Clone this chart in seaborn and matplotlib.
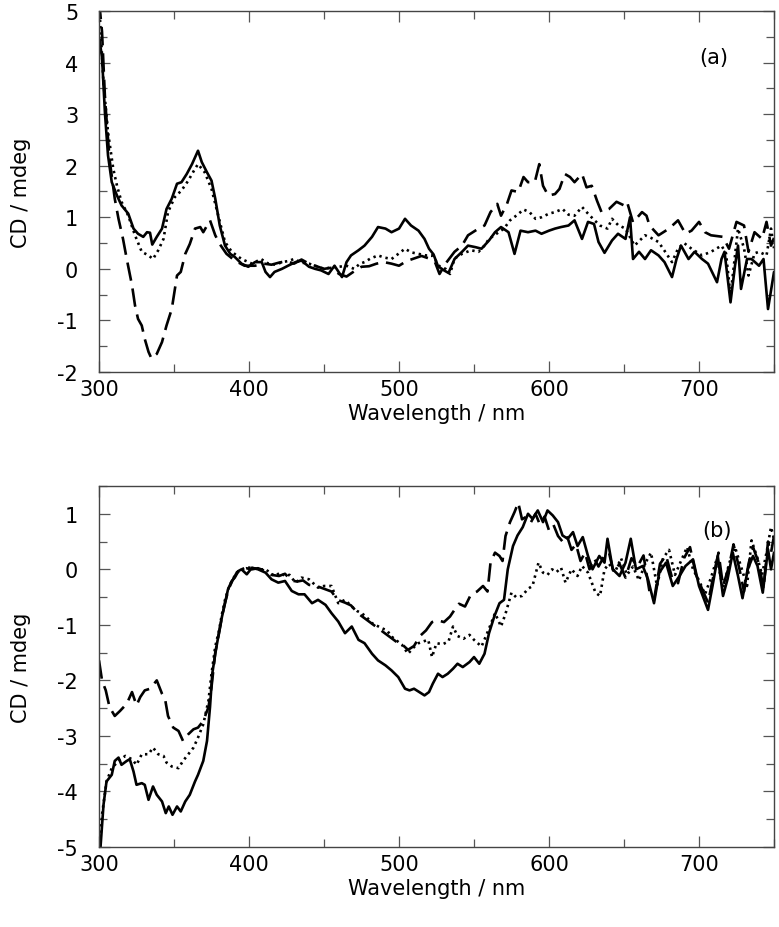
import numpy as np
import pandas as pd
import matplotlib
matplotlib.use("Agg")
import matplotlib.pyplot as plt
import seaborn as sns
from matplotlib.ticker import MultipleLocator

# ---------------- Data ----------------
# Panel (a)
a_solid_x = [300, 302, 304, 306, 308.5, 312, 315, 319.5, 323, 326, 329.5, 332, 334, 335.5, 338.5, 342, 345, 348.5, 352, 355,
             358.5, 362, 366, 368.5, 372, 375, 377.5, 380.5, 384, 387.5, 390.5, 395, 399.5, 404, 408.5, 411, 414, 417, 422, 426,
             431, 435, 440, 444, 448, 453, 457, 462, 465, 468, 473, 477, 482, 486, 491, 495, 500, 504, 508, 513,
             517, 520, 523, 526, 530, 533, 537, 542, 546, 551, 555, 560, 564, 568, 573, 577, 581, 586, 591, 595,
             600, 604, 608, 613, 617, 622, 626, 630, 633, 637, 642, 646, 651, 654, 656, 660, 664, 668, 673, 677,
             682, 685, 688, 693, 697, 702, 706, 712, 715, 717, 721, 724, 726, 728, 732, 735, 740, 743, 746, 750]
a_solid_y = [4.5, 4.1, 3.0, 2.2, 1.68, 1.42, 1.23, 1.07, 0.78, 0.68, 0.62, 0.71, 0.70, 0.47, 0.62, 0.78, 1.16, 1.36, 1.65, 1.68,
             1.84, 2.03, 2.29, 2.07, 1.87, 1.71, 1.36, 0.84, 0.45, 0.29, 0.23, 0.10, 0.04, 0.13, 0.13, -0.06, -0.16, -0.06, 0.0, 0.06,
             0.13, 0.16, 0.04, 0.0, -0.03, -0.10, 0.06, -0.16, 0.13, 0.26, 0.36, 0.45, 0.62, 0.81, 0.78, 0.71, 0.78, 0.97, 0.84, 0.74,
             0.58, 0.39, 0.28, 0.05, -0.03, -0.08, 0.19, 0.33, 0.45, 0.42, 0.39, 0.55, 0.71, 0.81, 0.71, 0.29, 0.74, 0.71, 0.74, 0.68,
             0.74, 0.78, 0.81, 0.84, 0.94, 0.58, 0.91, 0.87, 0.52, 0.31, 0.55, 0.68, 0.58, 1.0, 0.19, 0.33, 0.19, 0.36, 0.26, 0.13,
             -0.16, 0.19, 0.45, 0.19, 0.33, 0.19, 0.10, -0.26, 0.19, 0.33, -0.65, 0.06, 0.45, -0.39, 0.19, 0.19, 0.06, 0.19, -0.78, -0.06]

a_dot_x = [300, 303, 306, 309.5, 312, 315, 319.5, 324, 328.5, 333, 336, 339.5, 343, 346, 350.5, 355, 359.5, 364, 366, 370.5,
           375, 379.5, 384, 388.5, 395, 402, 408, 413, 418, 422, 426, 430, 435, 440, 445, 450, 455, 460, 465, 470,
           474, 477, 481, 486, 490, 495, 500, 504, 508, 513, 518, 522, 527, 531, 534, 537, 542, 548, 553, 557,
           560, 566, 570, 574, 579, 583, 587, 591, 595, 600, 604, 609, 613, 617, 622, 626, 630, 634, 639, 642,
           646, 651, 657, 664, 668, 673, 677, 682, 686, 690, 695, 702, 708, 715, 718, 721, 726, 730, 733, 737,
           740, 745, 748, 750]
a_dot_y = [5.2, 3.6, 2.65, 1.94, 1.61, 1.30, 1.03, 0.65, 0.33, 0.26, 0.19, 0.36, 0.58, 1.10, 1.39, 1.52, 1.71, 1.94, 2.03, 1.87,
           1.55, 1.03, 0.52, 0.33, 0.19, 0.10, 0.19, 0.10, 0.08, 0.13, 0.15, 0.19, 0.12, 0.10, 0.05, 0.0, 0.03, 0.04, 0.06, 0.0,
           0.10, 0.13, 0.20, 0.26, 0.22, 0.19, 0.30, 0.39, 0.32, 0.29, 0.26, 0.26, 0.05, 0.0, -0.10, 0.20, 0.29, 0.36, 0.33, 0.45,
           0.58, 0.70, 0.78, 0.94, 1.05, 1.15, 1.10, 0.97, 1.00, 1.07, 1.10, 1.16, 1.05, 1.03, 1.20, 1.07, 0.95, 0.84, 0.78, 0.97,
           0.85, 0.78, 0.45, 0.65, 0.60, 0.52, 0.35, 0.13, 0.39, 0.50, 0.39, 0.26, 0.33, 0.45, 0.30, -0.52, 0.78, 0.40, -0.13, 0.30,
           0.33, 0.26, 0.78, 0.40]

a_dash_x = [300, 302, 304, 307, 310.5, 313, 316, 318.5, 322, 324, 326, 328.5, 330.5, 333, 335, 338.5, 342, 345, 348.5, 352,
            354.5, 357.5, 360.5, 364, 367.5, 369.5, 374, 377.5, 380.5, 385, 390.5, 397, 404, 410, 415, 420, 425, 430, 435, 440,
            445, 450, 455, 460, 465, 470, 475, 480, 485, 490, 495, 500, 505, 510, 515, 520, 524, 527, 531, 537,
            542, 546, 553, 557, 561, 565.5, 568, 572, 575, 579.5, 583, 586, 590.5, 593.5, 596, 599.5, 604, 607, 610.5, 614,
            617, 622, 625, 628.5, 632, 635, 640, 645, 650, 652, 656, 662, 665, 667, 673, 680, 686, 691, 695, 700,
            704, 708, 716, 720, 725, 730, 733, 737, 742, 745, 748, 750]
a_dash_y = [5.2, 4.6, 3.3, 2.13, 1.36, 0.97, 0.58, 0.19, -0.32, -0.71, -0.97, -1.10, -1.36, -1.61, -1.74, -1.65, -1.42, -1.10, -0.78, -0.13,
            -0.06, 0.29, 0.48, 0.78, 0.81, 0.71, 0.94, 0.65, 0.48, 0.29, 0.16, 0.06, 0.06, 0.10, 0.08, 0.12, 0.15, 0.10, 0.18, 0.10,
            0.05, 0.0, 0.02, -0.10, -0.15, -0.05, 0.04, 0.05, 0.10, 0.13, 0.10, 0.06, 0.15, 0.20, 0.25, 0.20, 0.13, -0.10, 0.10, 0.33,
            0.45, 0.65, 0.78, 0.84, 1.10, 1.26, 1.03, 1.26, 1.52, 1.49, 1.78, 1.68, 1.68, 2.03, 1.61, 1.42, 1.45, 1.55, 1.84, 1.78,
            1.68, 1.84, 1.58, 1.61, 1.32, 1.10, 1.16, 1.30, 1.23, 1.30, 0.90, 1.10, 1.03, 0.84, 0.65, 0.78, 0.94, 0.68, 0.74, 0.91,
            0.71, 0.65, 0.62, 0.39, 0.91, 0.84, 0.33, 0.71, 0.58, 0.91, 0.45, 0.60]

# Panel (b)
b_solid_x = [300, 301, 303, 305, 308.5, 310.5, 313, 315, 318.5, 320.5, 323, 325, 328.5, 330.5, 333, 336, 338.5, 342, 344.5, 346.5,
             349, 352, 354.5, 357.5, 360.5, 364, 366, 369.5, 372, 374, 375.5, 377.5, 379.5, 382, 384, 386, 388.5, 390.5, 393, 395,
             398.5, 402, 406, 411, 415, 419.5, 424, 428.5, 433, 437, 442, 446, 451, 455, 459.5, 464, 468.5, 473, 477, 482,
             486, 491, 495, 499.5, 504, 507, 510, 513.5, 517, 520, 522.5, 526, 529, 532.5, 536, 539, 542.5, 547, 550, 553.5,
             557, 560, 563.5, 567, 570, 572.5, 576, 579, 582.5, 586, 589, 592.5, 596, 599, 602.5, 606, 609, 612.5, 616, 619,
             622.5, 626, 629, 633.5, 637, 639, 642.5, 647, 651, 654.5, 658, 662.5, 666, 670, 673.5, 678, 682.5, 687, 691, 696,
             700, 706, 709, 712.5, 716, 719, 722.5, 726, 729, 732.5, 736, 739, 742.5, 746, 748, 750]
b_solid_y = [-5.2, -5.0, -4.24, -3.82, -3.70, -3.45, -3.39, -3.52, -3.45, -3.42, -3.64, -3.88, -3.85, -3.88, -4.15, -3.91, -4.06, -4.18, -4.39, -4.27,
             -4.42, -4.27, -4.36, -4.18, -4.06, -3.82, -3.70, -3.45, -3.09, -2.48, -1.88, -1.52, -1.21, -0.85, -0.61, -0.36, -0.21, -0.15, -0.03, 0.0,
             -0.09, 0.03, 0.0, -0.06, -0.18, -0.24, -0.21, -0.39, -0.45, -0.45, -0.61, -0.55, -0.64, -0.79, -0.94, -1.15, -1.03, -1.27, -1.33, -1.52,
             -1.64, -1.73, -1.82, -1.94, -2.15, -2.18, -2.15, -2.21, -2.27, -2.21, -2.06, -1.88, -1.94, -1.88, -1.79, -1.70, -1.76, -1.67, -1.58, -1.70,
             -1.52, -1.15, -0.85, -0.61, -0.55, 0.0, 0.42, 0.61, 0.76, 1.00, 0.91, 1.06, 0.85, 1.06, 0.97, 0.85, 0.61, 0.55, 0.67, 0.42,
             0.58, 0.24, 0.0, 0.24, 0.12, 0.55, 0.0, -0.12, 0.12, 0.55, 0.0, 0.06, -0.18, -0.61, -0.06, 0.12, -0.30, -0.12, 0.06, 0.18,
             -0.30, -0.73, -0.30, 0.24, -0.48, -0.18, 0.30, -0.12, -0.52, 0.0, 0.24, 0.06, -0.42, 0.36, 0.0, 0.30]

b_dot_x = [300, 302, 305, 308.5, 313, 317.5, 322, 325, 328.5, 333, 336, 339.5, 343, 345, 348.5, 353, 356, 359.5, 363, 366,
           369.5, 373, 375, 377.5, 380, 382, 384, 386.5, 389, 392, 395, 398, 402, 406, 411, 417, 421, 424, 427, 431,
           435, 440, 446, 450, 455, 459.5, 464, 468.5, 472, 475, 478, 482, 488.5, 492, 495, 502, 506, 510, 513, 516,
           519.5, 522, 525, 529, 533, 536, 539, 543, 547, 550, 555, 558, 561, 564, 568, 571, 575, 578, 582, 586,
           589, 593, 596, 599, 602, 605, 608, 611, 615, 619, 622, 626, 631, 634, 637, 640, 644, 648, 652, 656,
           660, 664, 668, 672, 676, 680, 684, 688, 692, 696, 700, 704, 708, 712, 716, 720, 724, 728, 732, 735,
           739, 742, 745, 748, 750]
b_dot_y = [-5.2, -4.42, -3.82, -3.58, -3.45, -3.36, -3.42, -3.52, -3.33, -3.33, -3.21, -3.33, -3.36, -3.48, -3.55, -3.58, -3.45, -3.33, -3.21, -3.03,
           -2.79, -2.36, -1.88, -1.39, -1.10, -0.80, -0.55, -0.33, -0.18, -0.06, 0.0, 0.03, 0.03, 0.0, 0.0, -0.12, -0.06, -0.12, -0.10, -0.24,
           -0.15, -0.18, -0.33, -0.30, -0.30, -0.61, -0.55, -0.67, -0.75, -0.79, -0.85, -0.97, -1.06, -1.10, -1.21, -1.36, -1.52, -1.40, -1.33, -1.30,
           -1.27, -1.58, -1.33, -1.35, -1.30, -1.03, -1.20, -1.25, -1.18, -1.27, -1.39, -1.20, -1.00, -0.79, -1.03, -0.80, -0.42, -0.50, -0.48, -0.35,
           -0.30, 0.12, -0.06, -0.10, 0.0, -0.05, 0.03, -0.24, 0.0, -0.12, 0.06, -0.06, -0.42, -0.48, 0.0, 0.10, -0.05, 0.20, -0.10, 0.05,
           -0.20, 0.10, 0.30, -0.30, 0.20, 0.35, -0.10, 0.15, 0.40, 0.0, -0.20, -0.45, -0.15, 0.20, -0.35, 0.10, 0.40, 0.05, -0.30, 0.52,
           0.20, -0.10, 0.30, 0.76, 0.55]

b_dash_x = [300, 302, 304.5, 307, 310.5, 314, 318.5, 322, 325, 327.5, 330.5, 334, 338.5, 342, 344, 346, 349.5, 353, 356, 359.5,
            363, 366, 369.5, 373, 375, 377.5, 380, 382, 384, 386.5, 389, 392, 395, 398, 402, 406, 411, 415, 420, 424,
            428, 432, 436, 440, 445, 450, 455, 459, 464, 468, 473, 478, 483, 488, 493, 498, 502, 506, 510, 514,
            518, 522, 526, 530, 534, 537, 540, 544, 548, 552, 556, 559, 561, 564, 567, 569, 571, 574, 577, 579.5,
            582, 585, 588, 591, 594, 597, 600, 603, 606, 609, 612, 615, 618, 621, 624, 627, 630, 633, 637, 640,
            643, 647, 651, 655, 659, 663, 667, 670, 674, 678, 682, 686, 690, 694, 698, 702, 706, 709, 713, 716,
            720, 723, 727, 730, 733, 736, 740, 743, 746, 748, 750]
b_dash_y = [-1.64, -2.0, -2.18, -2.48, -2.64, -2.55, -2.42, -2.21, -2.45, -2.30, -2.18, -2.15, -2.0, -2.24, -2.33, -2.64, -2.85, -2.91, -3.09, -2.97,
            -2.88, -2.85, -2.73, -2.48, -2.12, -1.50, -1.15, -0.85, -0.60, -0.35, -0.20, -0.05, 0.0, 0.02, 0.0, 0.02, -0.03, -0.10, -0.12, -0.08,
            -0.20, -0.22, -0.20, -0.28, -0.30, -0.35, -0.40, -0.55, -0.60, -0.65, -0.80, -0.90, -1.00, -1.10, -1.20, -1.30, -1.35, -1.45, -1.38, -1.20,
            -1.10, -0.95, -0.92, -0.95, -0.85, -0.73, -0.62, -0.67, -0.45, -0.40, -0.30, -0.40, 0.12, 0.30, 0.24, 0.15, 0.60, 0.85, 1.03, 1.20,
            0.90, 0.95, 0.85, 1.00, 0.80, 0.95, 0.70, 0.80, 0.60, 0.50, 0.60, 0.35, 0.45, 0.15, 0.30, 0.0, 0.20, 0.05, 0.25, 0.30,
            -0.05, 0.10, -0.15, 0.20, 0.05, 0.25, -0.40, -0.55, 0.10, 0.25, -0.15, -0.25, 0.20, 0.40, -0.10, -0.35, -0.60, -0.20, 0.30, -0.30,
            0.05, 0.45, 0.0, -0.40, 0.10, 0.40, 0.10, -0.35, 0.50, 0.30, 0.60]

series_names = ["solid", "dotted", "dashed"]
x_ticks = [300, 400, 500, 600, 700]
a_yticks = [-2, -1, 0, 1, 2, 3, 4, 5]
b_yticks = [-5, -4, -3, -2, -1, 0, 1]
panel_labels = ["(a)", "(b)"]
x_label = "Wavelength / nm"
y_label = "CD / mdeg"


def long_frame(sets):
    frames = []
    for name, (xs, ys) in zip(series_names, sets):
        frames.append(pd.DataFrame({"wl": xs, "cd": ys, "series": name}))
    return pd.concat(frames, ignore_index=True)


df_a = long_frame([(a_solid_x, a_solid_y), (a_dot_x, a_dot_y), (a_dash_x, a_dash_y)])
df_b = long_frame([(b_solid_x, b_solid_y), (b_dot_x, b_dot_y), (b_dash_x, b_dash_y)])

# ---------------- Style ----------------
sns.set_style("ticks")
plt.rcParams["font.family"] = ["DejaVu Sans"]
plt.rcParams["axes.unicode_minus"] = False
plt.rcParams["text.color"] = "black"
plt.rcParams["axes.labelcolor"] = "black"
plt.rcParams["xtick.labelcolor"] = "black"
plt.rcParams["ytick.labelcolor"] = "black"

FS = 15

fig = plt.figure(figsize=(7.79, 9.28), dpi=100)
ax_a = fig.add_axes([0.1271, 0.5981, 0.8665, 0.3890])
ax_b = fig.add_axes([0.1271, 0.0862, 0.8665, 0.3890])

dash_map = {"solid": "", "dotted": (0.9, 1.5), "dashed": (7, 3)}
pal = {"solid": "black", "dotted": "black", "dashed": "black"}

for ax, df, yt, ylim, lab, lab_pos in [
    (ax_a, df_a, a_yticks, (-2, 5), panel_labels[0], (710, 4.1)),
    (ax_b, df_b, b_yticks, (-5, 1.5), panel_labels[1], (712, 0.71)),
]:
    sns.lineplot(data=df, x="wl", y="cd", hue="series", style="series",
                 dashes=dash_map, palette=pal, estimator=None, sort=False,
                 linewidth=1.9, ax=ax, legend=False)
    ax.set_xlim(300, 750)
    ax.set_ylim(*ylim)
    ax.set_xticks(x_ticks)
    ax.set_yticks(yt)
    ax.xaxis.set_minor_locator(MultipleLocator(50))
    ax.yaxis.set_minor_locator(MultipleLocator(0.5))
    ax.tick_params(which="both", direction="in", top=True, right=True,
                   color="#555555", width=0.9, labelcolor="black")
    ax.tick_params(which="major", length=8, labelsize=FS)
    ax.tick_params(which="minor", length=5.5)
    ax.tick_params(axis="y", which="major", pad=15)
    ax.tick_params(axis="x", which="major", pad=5)
    for sp in ax.spines.values():
        sp.set_linewidth(1.0)
        sp.set_color("#444444")
    ax.set_xlabel(x_label, fontsize=FS, labelpad=3, color="black")
    ax.set_ylabel(y_label, fontsize=FS, labelpad=19, color="black")
    ax.text(lab_pos[0], lab_pos[1], lab, fontsize=FS, ha="center", va="center", color="black")

fig.savefig("out.png", dpi=100)
